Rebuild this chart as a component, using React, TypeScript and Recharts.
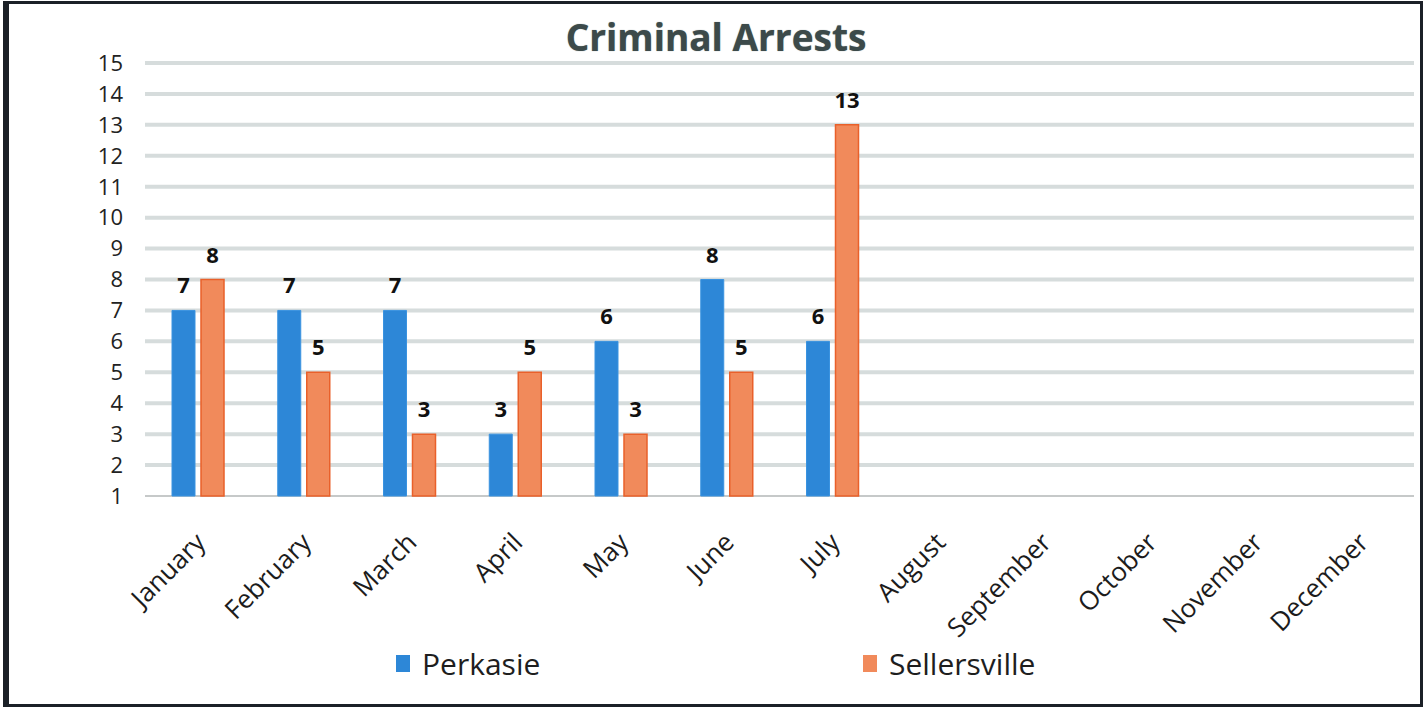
import React from "react";
import { BarChart, Bar, XAxis, YAxis, CartesianGrid, Legend, LabelList } from "recharts";

const months = [
  "January", "February", "March", "April", "May", "June",
  "July", "August", "September", "October", "November", "December",
];
const perkasie = [7, 7, 7, 3, 6, 8, 6, null, null, null, null, null];
const sellersville = [8, 5, 3, 5, 3, 5, 13, null, null, null, null, null];
const yTicks = [1, 2, 3, 4, 5, 6, 7, 8, 9, 10, 11, 12, 13, 14, 15];

const data = months.map((m, i) => ({
  month: m,
  Perkasie: perkasie[i],
  Sellersville: sellersville[i],
}));

const FONT = "'Open Sans', 'Noto Sans', sans-serif";
const BLUE = "#2d87d7";
const ORANGE = "#f18a5b";

const MonthTick = (props: any) => {
  const { x, y, payload } = props;
  return (
    <g transform={`translate(${x + 9},${y + 40})`}>
      <text
        x={0}
        y={0}
        textAnchor="end"
        transform="rotate(-45)"
        fontSize={26}
        fontWeight={500}
        fontFamily={FONT}
        fill="#1c1c1c"
      >
        {payload.value}
      </text>
    </g>
  );
};

const GridLine = (p: any) => (
  <line
    key={p.key}
    x1={p.x1}
    x2={p.x2}
    y1={p.y1}
    y2={p.y2}
    stroke={p.index === 0 ? "#c6c9c9" : "#d6dcdc"}
    strokeWidth={p.index === 0 ? 2 : 4}
  />
);

const LegendContent = (props: any) => {
  const { payload } = props;
  return (
    <div style={{ display: "flex", paddingLeft: 396, fontFamily: FONT }}>
      {payload.map((item: any, i: number) => (
        <div
          key={item.value}
          style={{ display: "flex", alignItems: "center", width: i === 0 ? 467 : 300 }}
        >
          <span
            style={{
              display: "inline-block",
              width: 14,
              height: 17,
              background: item.color,
              marginRight: 12,
            }}
          />
          <span style={{ fontSize: 30, fontWeight: 500, color: "#1e1e1e" }}>{item.value}</span>
        </div>
      ))}
    </div>
  );
};

export default function App() {
  return (
    <div
      style={{
        position: "absolute",
        left: 0,
        top: 0,
        width: 1424,
        height: 708,
        background: "#fff",
        overflow: "hidden",
      }}
    >
      <div
        style={{
          position: "absolute",
          left: 3,
          top: 1,
          width: 1411,
          height: 700,
          border: "3px solid #1b2027",
          borderLeftWidth: 6,
          boxSizing: "content-box",
        }}
      />
      <div
        style={{
          position: "absolute",
          left: 0,
          top: 11,
          width: 1432,
          textAlign: "center",
          fontFamily: FONT,
          fontWeight: 700,
          fontSize: 37,
          color: "#3c4a4a",
          textShadow: "0 0 1px #7d8b8b",
        }}
      >
        Criminal Arrests
      </div>
      <BarChart
        width={1424}
        height={708}
        data={data}
        margin={{ top: 63, right: 10, left: 0, bottom: 112 }}
        barSize={23}
        barGap={6}
        style={{ position: "absolute", left: 0, top: 0 }}
      >
        <CartesianGrid vertical={false} horizontal={GridLine} />
        <XAxis
          dataKey="month"
          interval={0}
          height={100}
          tick={<MonthTick />}
          tickLine={false}
          axisLine={false}
        />
        <YAxis
          width={145}
          domain={[1, 15]}
          ticks={yTicks}
          interval={0}
          tickLine={false}
          axisLine={false}
          tickSize={0}
          tickMargin={22}
          tick={{ fontSize: 22, fontFamily: FONT, fill: "#222" }}
        />
        <Legend
          verticalAlign="middle"
          align="center"
          wrapperStyle={{ top: 643, left: 0, width: 1424 }}
          content={<LegendContent />}
        />
        <Bar
          dataKey="Perkasie"
          fill={BLUE}
          stroke="#3a93e0"
          strokeWidth={1}
          isAnimationActive={false}
        >
          <LabelList
            dataKey="Perkasie"
            position="top"
            offset={17}
            fontSize={22}
            fontWeight={700}
            fontFamily={FONT}
            fill="#111"
          />
        </Bar>
        <Bar
          dataKey="Sellersville"
          fill={ORANGE}
          stroke="#e9602a"
          strokeWidth={1.5}
          isAnimationActive={false}
        >
          <LabelList
            dataKey="Sellersville"
            position="top"
            offset={17}
            fontSize={22}
            fontWeight={700}
            fontFamily={FONT}
            fill="#111"
          />
        </Bar>
      </BarChart>
    </div>
  );
}
